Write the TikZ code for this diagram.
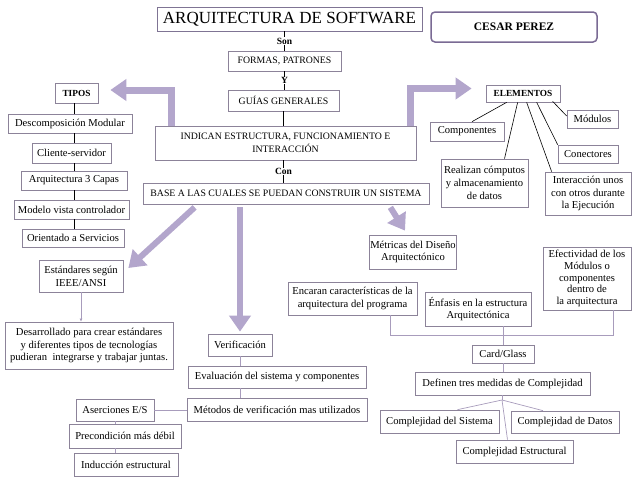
\documentclass[tikz,border=0pt]{standalone}
\usepackage{fontspec}
\setmainfont{Liberation Serif}
\usetikzlibrary{arrows.meta,calc}
\definecolor{boxc}{HTML}{8C8399}
\definecolor{titc}{HTML}{7F7494}
\definecolor{cesc}{HTML}{7A6A94}
\definecolor{arrc}{HTML}{B3A6CC}
\definecolor{linc}{HTML}{A89CBC}
\tikzset{
  box/.style={draw=boxc, line width=0.7pt, fill=white, align=center, inner sep=1pt,
    font=\fontsize{10.6}{12.8}\selectfont},
  capbox/.style={box, font=\fontsize{9.8}{12.5}\selectfont},
  boldbox/.style={box, font=\fontsize{9.3}{11}\selectfont\bfseries},
  lbl/.style={fill=white, inner sep=0.4pt, font=\fontsize{9.5}{10}\selectfont\bfseries},
  bigarrow/.style={draw=arrc, line width=7pt, line join=miter, -{Triangle[length=16pt,width=21pt]}},
  dline/.style={draw=black, line width=0.6pt},
  lline/.style={draw=linc, line width=0.7pt},
}
\begin{document}
\begin{tikzpicture}[x=1pt,y=-1pt]
\useasboundingbox (0,0) rectangle (638,493);
% top
\node[box, draw=titc, line width=0.9pt, minimum width=265pt, minimum height=24pt, font=\fontsize{17}{19}\selectfont] (title) at (289.5,19) {ARQUITECTURA DE SOFTWARE};
\node[draw=cesc, line width=1.5pt, rounded corners=4pt, minimum width=166pt, minimum height=30pt, font=\fontsize{11.5}{13}\selectfont\bfseries] (cesar) at (514,27) {CESAR PEREZ};
\node[capbox, minimum width=113pt, minimum height=20pt] (formas) at (284.5,61) {FORMAS, PATRONES};
\node[capbox, minimum width=111pt, minimum height=21pt] (guias) at (283.5,100.5) {GUÍAS GENERALES};
\node[capbox, minimum width=261pt, minimum height=34pt] (indican) at (285.5,143) {INDICAN ESTRUCTURA, FUNCIONAMIENTO E\\INTERACCIÓN};
\node[capbox, minimum width=286pt, minimum height=21pt] (base) at (286,193.5) {BASE A LAS CUALES SE PUEDAN CONSTRUIR UN SISTEMA};
\draw[dline] (formas.north) -- (formas.north |- title.south) node[lbl, pos=0.5] (son) {Son};
\draw[dline] (formas.south) -- (formas.south |- guias.north) node[lbl, pos=0.5] (yy) {Y};
\draw[dline] (guias.south) -- (guias.south |- indican.north);
\draw[dline] (guias.south |- indican.south) -- (guias.south |- base.north) node[lbl, pos=0.5] (con) {Con};
% tipos
\node[boldbox, minimum width=43pt, minimum height=20pt] (tipos) at (76.5,93) {TIPOS};
\node[box, minimum width=124pt, minimum height=19pt] (desc) at (70,123.5) {Descomposición Modular};
\node[box, minimum width=79pt, minimum height=20pt] (cliente) at (71.5,153) {Cliente-servidor};
\node[box, minimum width=106pt, minimum height=19pt] (arq) at (74,180.5) {Arquitectura 3 Capas};
\node[box, minimum width=115pt, minimum height=19pt] (modelo) at (71.5,209.5) {Modelo vista controlador};
\node[box, minimum width=102pt, minimum height=18pt] (orient) at (73,238) {Orientado a Servicios};
\coordinate (tx) at (74,0);
\draw[dline] (tx |- tipos.south) -- (tx |- desc.north);
\draw[dline] (tx |- desc.south) -- (tx |- cliente.north);
\draw[dline] (tx |- cliente.south) -- (tx |- arq.north);
\draw[dline] (tx |- arq.south) -- (tx |- modelo.north);
\draw[dline] (tx |- modelo.south) -- (tx |- orient.north);
% elementos
\node[boldbox, minimum width=74pt, minimum height=17pt] (elem) at (523,93.5) {ELEMENTOS};
\node[box, minimum width=51pt, minimum height=18pt] (modulos) at (592.5,119) {Módulos};
\node[box, minimum width=74pt, minimum height=19pt] (comp) at (467,131.5) {Componentes};
\node[box, minimum width=60pt, minimum height=18pt] (conect) at (588,154) {Conectores};
\node[box, minimum width=87pt, minimum height=48pt] (realiz) at (484.5,183) {Realizan cómputos\\y almacenamiento\\de datos};
\node[box, minimum width=86pt, minimum height=43pt] (inter) at (588,193.5) {Interacción unos\\con otros durante\\la Ejecución};
\draw[dline] ([xshift=21pt]elem.south west) -- ([xshift=5pt]comp.north);
\draw[dline] ([xshift=32pt]elem.south west) -- ([xshift=20pt]realiz.north);
\draw[dline] ([xshift=41pt]elem.south west) -- ([xshift=7pt]inter.north west);
\draw[dline] ([xshift=51pt]elem.south west) -- (conect.north west);
\draw[dline] ([xshift=67pt,yshift=1pt]elem.south west) -- ([yshift=3pt]modulos.west);
% big arrows from indican
\draw[bigarrow] ([xshift=17pt]indican.north west) |- ([xshift=12pt,yshift=3pt]tipos.east);
\draw[bigarrow] ([xshift=-6pt]indican.north east) |- ([xshift=-14pt,yshift=5pt]elem.west);
% lower left
\node[box, minimum width=84pt, minimum height=32pt] (estand) at (81,276) {Estándares según\\IEEE/ANSI};
\node[box, minimum width=168pt, minimum height=47pt] (desarr) at (89,345.5) {Desarrollado para crear estándares\\y diferentes tipos de tecnologías\\pudieran \ integrarse y trabajar juntas.};
\draw[lline, -{Latex[length=3pt,width=3pt]}] (estand.south) -- (estand.south |- desarr.north);
\draw[bigarrow, line width=6pt] ([xshift=52pt,yshift=-3pt]base.south west) -- ([xshift=5pt,yshift=8pt]estand.east);
% verification
\node[box, minimum width=64pt, minimum height=22pt] (verif) at (240,345) {Verificación};
\node[box, minimum width=178pt, minimum height=22pt] (eval) at (277,377) {Evaluación del sistema y componentes};
\node[box, minimum width=180pt, minimum height=23pt] (metod) at (277,409.5) {Métodos de verificación mas utilizados};
\node[box, minimum width=78pt, minimum height=22pt] (aserc) at (115,410) {Aserciones E/S};
\node[box, minimum width=112pt, minimum height=24pt] (precon) at (125,436) {Precondición más débil};
\node[box, minimum width=104pt, minimum height=23pt] (induc) at (126,464.5) {Inducción estructural};
\draw[bigarrow, line width=6pt] ([yshift=-3pt]verif.north |- base.south) -- ([yshift=2pt]verif.north);
\draw[lline] (verif.south) -- (verif.south |- eval.north);
\draw[lline] (verif.south |- eval.south) -- (verif.south |- metod.north);
\draw[lline] (aserc.east) -- (aserc.east -| metod.west);
\draw[lline] (aserc.south) -- (aserc.south |- precon.north);
\draw[lline] (aserc.south |- precon.south) -- (aserc.south |- induc.north);
% metrics
\node[box, minimum width=86pt, minimum height=34pt] (metric) at (413,252) {Métricas del Diseño\\Arquitectónico};
\draw[bigarrow, line width=6pt] ([xshift=-39pt,yshift=-3pt]base.south east) -- ([xshift=-8pt,yshift=4pt]metric.north);
\node[box, minimum width=129pt, minimum height=33pt] (encar) at (352.5,298.5) {Encaran características de la\\arquitectura del programa};
\node[box, minimum width=106pt, minimum height=34pt] (enfas) at (478,309) {Énfasis en la estructura\\Arquitectónica};
\node[box, minimum width=88pt, minimum height=63pt, inner sep=0.5pt, font=\fontsize{10.6}{11.7}\selectfont] (efect) at (587,278.5) {Efectividad de los\\Módulos o\\componentes\\dentro de\\la arquitectura};
\node[box, minimum width=62pt, minimum height=18pt] (card) at (503,354) {Card/Glass};
\node[box, minimum width=175pt, minimum height=23pt] (defin) at (502.5,383.5) {Definen tres medidas de Complejidad};
\node[box, minimum width=119pt, minimum height=23pt] (csis) at (439.5,421.5) {Complejidad del Sistema};
\node[box, minimum width=108pt, minimum height=22pt] (cdat) at (565,422) {Complejidad de Datos};
\node[box, minimum width=117pt, minimum height=23pt] (cest) at (514.5,451.5) {Complejidad Estructural};
\coordinate (bx1) at (390,0);
\coordinate (bx2) at (613,0);
\coordinate (by) at (0,335);
\draw[lline] (bx1 |- encar.south) -- (bx1 |- by) -- (bx2 |- by) -- (bx2 |- efect.south);
\draw[lline] (card.north |- enfas.south) -- (card.north);
\draw[lline] (card.south) -- (card.south |- defin.north);
\coordinate (dj) at (502,400);
\draw[lline] (dj |- defin.south) -- (dj);
\draw[lline] (dj) -- ([xshift=18pt]csis.north);
\draw[lline] (dj) -- ([xshift=-22pt]cdat.north);
\draw[lline] (dj) -- ([xshift=-7pt]cest.north);
\end{tikzpicture}
\end{document}
